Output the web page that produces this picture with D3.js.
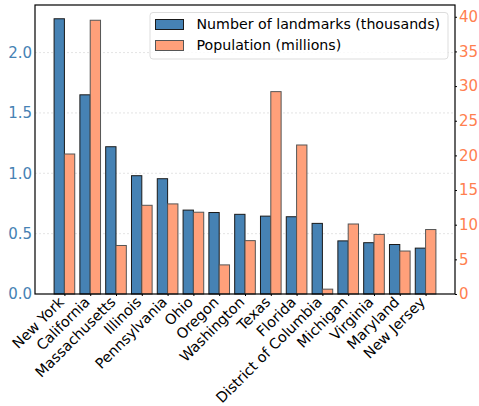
<!doctype html>
<html>
  <head>
    <script src="https://cdn.jsdelivr.net/npm/d3@7"></script>
    <style>
      body { margin: 0; background: white; }
      text { font-family: "DejaVu Sans", sans-serif; }
    </style>
  </head>
  <body>
    <script>
      // data
      var states = ["New York", "California", "Massachusetts", "Illinois", "Pennsylvania",
                    "Ohio", "Oregon", "Washington", "Texas", "Florida",
                    "District of Columbia", "Michigan", "Virginia", "Maryland", "New Jersey"];
      var landmarks = [2.28, 1.65, 1.22, 0.98, 0.955, 0.695, 0.675, 0.66, 0.645, 0.64,
                       0.585, 0.44, 0.425, 0.41, 0.38];
      var population = [20.2, 39.5, 7.0, 12.8, 13.0, 11.8, 4.2, 7.7, 29.2, 21.5,
                        0.7, 10.1, 8.6, 6.2, 9.3];
      var leftTicks = [0, 0.5, 1.0, 1.5, 2.0];
      var rightTicks = [0, 5, 10, 15, 20, 25, 30, 35, 40];

      var w_svg = 479, h_svg = 406;
      var ax_left = 35, ax_right = 455, ax_top = 5, ax_bottom = 294;
      var blue = "steelblue", salmon = "#ffa07a";
      var bar_w = 0.4;

      var svg = d3.select("body").append("svg")
                  .attr("width", w_svg)
                  .attr("height", h_svg);

      var x = d3.scaleLinear().domain([-1.14, states.length - 1 + 1.14]).range([ax_left, ax_right]);
      var yL = d3.scaleLinear().domain([0, 2.394]).range([ax_bottom, ax_top]);
      var yR = d3.scaleLinear().domain([0, 41.7]).range([ax_bottom, ax_top]);

      // light grid from the left axis
      svg.append("g").selectAll("line")
         .data(leftTicks.slice(1))
         .enter().append("line")
         .attr("x1", ax_left).attr("x2", ax_right)
         .attr("y1", function(d){ return yL(d); })
         .attr("y2", function(d){ return yL(d); })
         .attr("stroke", "#ddd")
         .attr("stroke-dasharray", "2,2")
         .attr("stroke-width", 0.8);

      // bars
      svg.append("g").selectAll("rect")
         .data(landmarks)
         .enter().append("rect")
         .attr("x", function(d, i){ return x(i - bar_w); })
         .attr("y", function(d){ return yL(d); })
         .attr("width", x(bar_w) - x(0))
         .attr("height", function(d){ return ax_bottom - yL(d); })
         .attr("fill", blue)
         .attr("stroke", "#1a1a1a")
         .attr("stroke-width", 1);

      svg.append("g").selectAll("rect")
         .data(population)
         .enter().append("rect")
         .attr("x", function(d, i){ return x(i); })
         .attr("y", function(d){ return yR(d); })
         .attr("width", x(bar_w) - x(0))
         .attr("height", function(d){ return ax_bottom - yR(d); })
         .attr("fill", salmon)
         .attr("stroke", "#555")
         .attr("stroke-width", 1);

      // axes
      var axL = svg.append("g")
                   .attr("transform", "translate(" + ax_left + ",0)")
                   .call(d3.axisLeft(yL).tickValues(leftTicks).tickSize(0).tickPadding(3)
                         .tickFormat(d3.format(".1f")));
      axL.selectAll("text").attr("fill", blue).style("font-size", "15px");

      var axR = svg.append("g")
                   .attr("transform", "translate(" + ax_right + ",0)")
                   .call(d3.axisRight(yR).tickValues(rightTicks).tickSize(2).tickPadding(2));
      axR.selectAll("text").attr("fill", "coral").style("font-size", "15px");

      var axB = svg.append("g")
                   .attr("transform", "translate(0," + ax_bottom + ")")
                   .call(d3.axisBottom(x).tickValues(d3.range(states.length)).tickSize(2)
                         .tickFormat(function(i){ return states[i]; }));
      axB.selectAll("text")
         .style("font-size", "14.4px")
         .attr("fill", "black")
         .attr("text-anchor", "end")
         .attr("y", 0)
         .attr("dy", 0)
         .attr("transform", "translate(0,9) rotate(-45)");

      svg.selectAll(".domain").remove();

      // frame
      svg.append("rect")
         .attr("x", ax_left).attr("y", ax_top)
         .attr("width", ax_right - ax_left).attr("height", ax_bottom - ax_top)
         .attr("fill", "none")
         .attr("stroke", "black")
         .attr("stroke-width", 1.2);

      // legend
      var legend = svg.append("g");
      legend.append("rect")
            .attr("x", 150).attr("y", 12.5)
            .attr("width", 298).attr("height", 46.5)
            .attr("rx", 3)
            .attr("fill", "white").attr("fill-opacity", 0.8)
            .attr("stroke", "#ddd");
      var items = [["Number of landmarks (thousands)", blue, "#1a1a1a"],
                   ["Population (millions)", salmon, "#555"]];
      items.forEach(function(it, k){
        legend.append("rect")
              .attr("x", 155.5).attr("y", 19.5 + k * 21)
              .attr("width", 28).attr("height", 10)
              .attr("fill", it[1]).attr("stroke", it[2]);
        legend.append("text")
              .attr("x", 196.5).attr("y", 24.5 + k * 21)
              .attr("dy", "0.35em")
              .style("font-size", "14.2px")
              .text(it[0]);
      });
    </script>
  </body>
</html>
